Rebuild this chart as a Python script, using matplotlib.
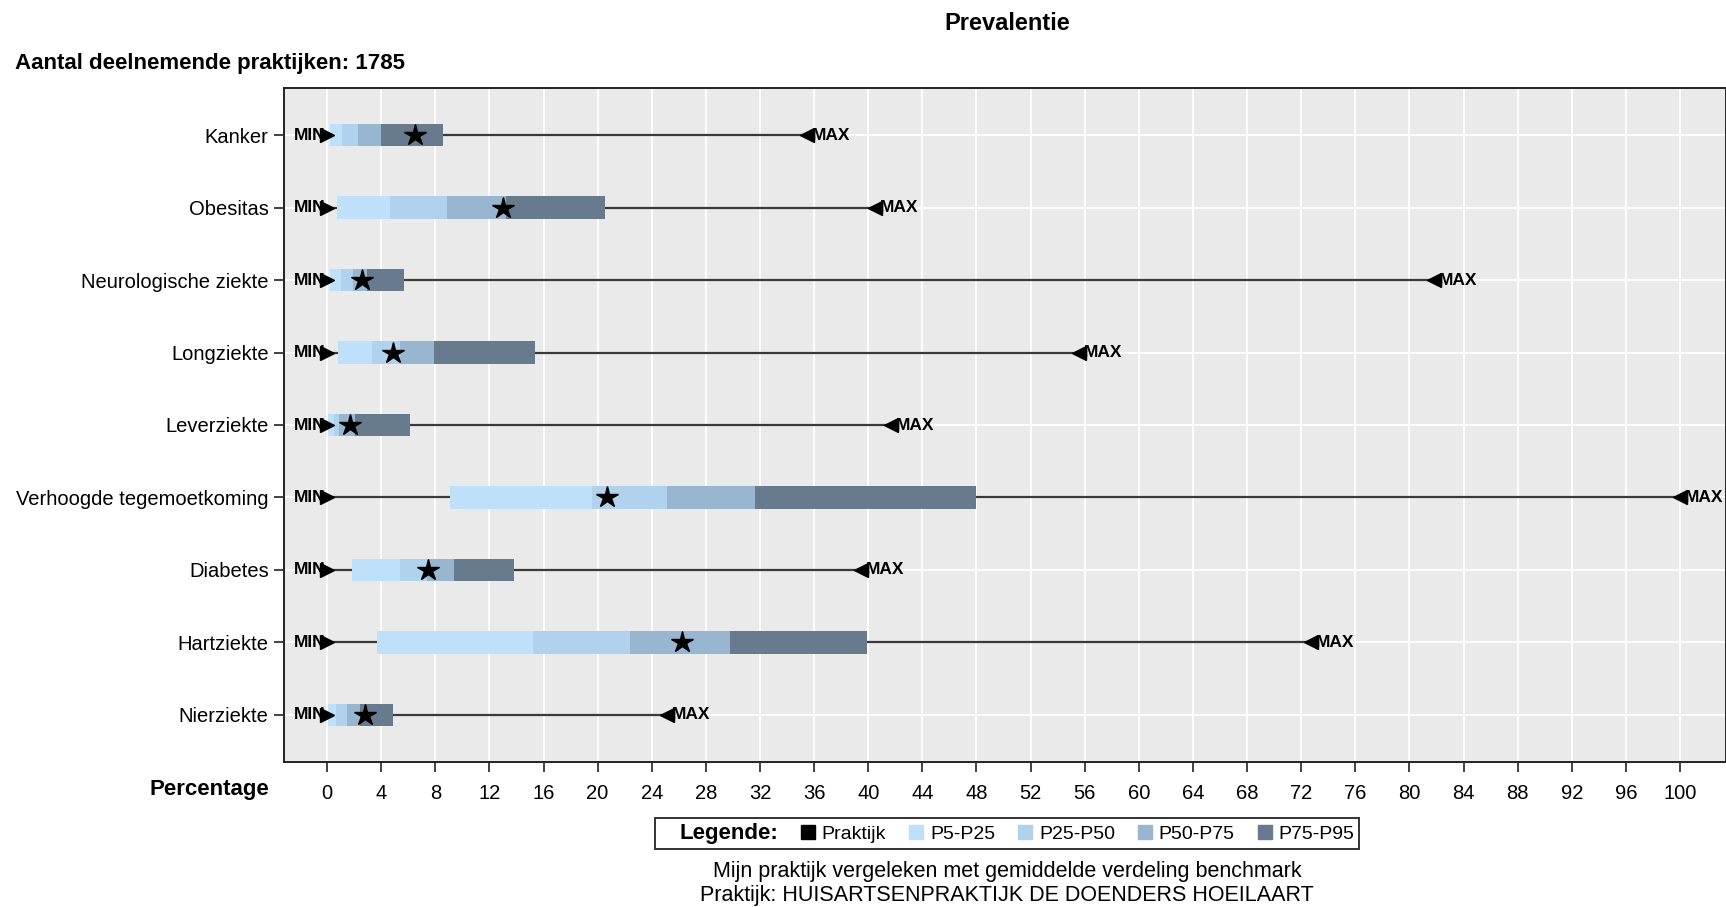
import matplotlib.pyplot as plt
from matplotlib.lines import Line2D
import numpy as np

categories = [
    "Kanker", "Obesitas", "Neurologische ziekte", "Longziekte", "Leverziekte",
    "Verhoogde tegemoetkoming", "Diabetes", "Hartziekte", "Nierziekte",
]
p_min = [0, 0, 0, 0, 0, 0, 0, 0, 0]
p5 = [0.22, 0.74, 0.22, 0.79, 0.10, 9.08, 1.87, 3.71, 0.09]
p25 = [1.08, 4.68, 1.03, 3.35, 0.50, 19.6, 5.43, 15.2, 0.67]
p50 = [2.27, 8.85, 1.95, 5.40, 0.92, 25.1, 7.38, 22.4, 1.46]
p75 = [3.97, 13.2, 2.98, 7.90, 2.07, 31.6, 9.39, 29.75, 2.44]
p95 = [8.6, 20.55, 5.69, 15.4, 6.13, 48.0, 13.8, 39.9, 4.85]
p_max = [35.5, 40.5, 81.8, 55.6, 41.7, 100.0, 39.5, 72.7, 25.1]
praktijk = [6.5, 13.0, 2.6, 4.88, 1.7, 20.7, 7.46, 26.25, 2.78]

seg_labels = ["P5-P25", "P25-P50", "P50-P75", "P75-P95"]
seg_colors = ["#bfe0fb", "#b0d2ef", "#98b6cf", "#687b8e"]
xticks = list(range(0, 101, 4))

REG = ["Liberation Sans", "DejaVu Sans"]
plt.rcParams["font.family"] = REG

fig = plt.figure(figsize=(17.26, 9.07), dpi=100)
ax = fig.add_axes([284 / 1726, 1 - 762 / 907, 1 - 284 / 1726, (762 - 88) / 907])
ax.set_facecolor("#eaeaea")

y = np.arange(len(categories))
bounds = [p5, p25, p50, p75, p95]

# whiskers min -> max
ax.hlines(y, p_min, p_max, color="#3a3a3a", lw=1.6, zorder=2)

for i in range(4):
    lo = np.array(bounds[i])
    hi = np.array(bounds[i + 1])
    ax.barh(y, hi - lo, left=lo, height=0.31, color=seg_colors[i],
            edgecolor="none", zorder=3)

ax.plot(praktijk, y, "*", color="black", ms=16, zorder=5)
ax.plot(p_min, y, ">", color="black", ms=10, zorder=6, clip_on=False)
ax.plot(p_max, y, "<", color="black", ms=10, zorder=6, clip_on=False)

for yi, lo, hi in zip(y, p_min, p_max):
    ax.annotate("MIN", (lo, yi), xytext=(-1, 0), textcoords="offset points",
                ha="right", va="center", fontsize=12.5, fontweight="bold",
                zorder=4)
    ax.annotate("MAX", (hi, yi), xytext=(3.5, 0), textcoords="offset points",
                ha="left", va="center", fontsize=12.5, fontweight="bold",
                zorder=4, annotation_clip=False)

ax.set_xlim(-3.18, 103.4)
ax.set_ylim(len(categories) - 0.35, -0.65)
ax.set_yticks(y)
ax.set_yticklabels(categories, fontsize=14.5)
ax.set_xticks(xticks)
ax.set_xticklabels([str(t) for t in xticks], fontsize=14.5)
ax.tick_params(axis="both", length=7, width=1.2, color="#222222")
ax.tick_params(axis="x", pad=9)
ax.tick_params(axis="y", pad=4)
ax.grid(True, color="white", lw=1.3)
ax.set_axisbelow(True)
for s in ax.spines.values():
    s.set_color("#222222")
    s.set_linewidth(1.4)

fig.text(1007 / 1726, 1 - 24 / 907, "Prevalentie", ha="center", va="center",
         fontsize=17, fontweight="bold")
fig.text(15 / 1726, 1 - 64 / 907, "Aantal deelnemende praktijken: 1785",
         ha="left", va="center", fontsize=16, fontweight="bold")
fig.text(269 / 1726, 1 - 789 / 907, "Percentage", ha="right", va="center",
         fontsize=16, fontweight="bold")

handles = [Line2D([], [], ls="none", label="Legende:"),
           Line2D([], [], ls="none", marker="s", ms=10, color="black",
                  label="Praktijk")]
for lab, c in zip(seg_labels, seg_colors):
    handles.append(Line2D([], [], ls="none", marker="s", ms=10, color=c,
                          label=lab))
leg = fig.legend(handles=handles, loc="center",
                 bbox_to_anchor=(1007 / 1726, 1 - 833.5 / 907), ncol=6,
                 frameon=True, fancybox=False, edgecolor="black",
                 handlelength=0.6, handletextpad=0.4, columnspacing=1.25,
                 borderpad=0.25, prop={"size": 14})
leg.get_frame().set_linewidth(1.4)
leg.get_texts()[0].set_fontweight("bold")
leg.get_texts()[0].set_fontsize(16)

fig.text(1007 / 1726, 1 - 871 / 907,
         "Mijn praktijk vergeleken met gemiddelde verdeling benchmark",
         ha="center", va="center", fontsize=15.5)
fig.text(1007 / 1726, 1 - 896 / 907,
         "Praktijk: HUISARTSENPRAKTIJK DE DOENDERS HOEILAART",
         ha="center", va="center", fontsize=15.5)

fig.savefig("out.png", dpi=100)
plt.close(fig)
